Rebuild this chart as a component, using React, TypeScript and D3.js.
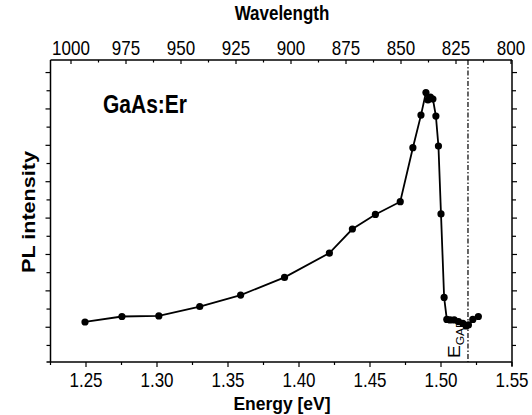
import React from 'react';
import * as d3 from 'd3';

// Data (energy in eV, PL intensity in arbitrary units = tick steps)
const energy = [1.2493, 1.2753, 1.3013, 1.3301, 1.3589, 1.3898, 1.4214, 1.4376, 1.4538, 1.4713,
  1.4802, 1.4859, 1.4894, 1.4908, 1.4925, 1.4943, 1.4964, 1.4982, 1.5000, 1.5022,
  1.5041, 1.5064, 1.5093, 1.5123, 1.5154, 1.5177, 1.5193, 1.5224, 1.5263];
const intensity = [2.29, 2.59, 2.62, 3.14, 3.77, 4.74, 6.08, 7.40, 8.20, 8.90,
  11.87, 13.66, 14.90, 14.49, 14.65, 14.54, 13.61, 11.96, 8.23, 3.64,
  2.43, 2.40, 2.40, 2.31, 2.21, 2.07, 2.13, 2.43, 2.59];

const energyTicks = [1.25, 1.30, 1.35, 1.40, 1.45, 1.50, 1.55];
const wavelengthTicks = [1000, 975, 950, 925, 900, 875, 850, 825, 800];
const intensityTicks = d3.range(1, 17);
const bandGap = 1.519;

const W = 532, H = 415;
const L = 50.5, R = 512, T = 60, B = 362;
const FONT = "'Liberation Sans', Arial, Helvetica, sans-serif";
const SY = 1.2; // vertical stretch of the scanned lettering

export default function App() {
  const x = d3.scaleLinear().domain([1.225, 1.55]).range([L, R]);
  const xTop = d3.scaleLinear().domain([1000, 800]).range([71, 511]);
  const y = d3.scaleLinear().domain([0.09, 16.69]).range([B, T]);

  const pts = energy.map((e, i) => [x(e), y(intensity[i])] as [number, number]);
  const line = d3.line()(pts) || '';

  const minorE = d3.range(0, 14).map(i => 1.225 + i * 0.025);
  const minorW = d3.range(0, 17).map(i => 1000 - i * 12.5);

  const stretchText = (tx: number, ty: number, s: string, size: number, weight: string, anchor = 'middle', key?: any, sy = SY) => (
    <text key={key} transform={`translate(${tx},${ty}) scale(1,${sy})`} fontSize={size} fontWeight={weight}
      textAnchor={anchor} fontFamily={FONT} fill="#000">{s}</text>
  );

  return (
    <svg width={W} height={H} style={{ position: 'absolute', left: 0, top: 0, background: '#fff' }}>
      <rect x={0} y={0} width={W} height={H} fill="#fff" />
      {/* frame */}
      <g stroke="#000" strokeWidth={1.5} fill="none">
        <line x1={L} y1={T} x2={R} y2={T} />
        <line x1={L - 4} y1={B} x2={R} y2={B} />
        <line x1={L} y1={T} x2={L} y2={B} />
        <line x1={R} y1={T} x2={R} y2={B + 4} />
      </g>
      {/* ticks */}
      <g stroke="#000" strokeWidth={1.2}>
        {minorE.map((e, i) => {
          const major = Math.abs(Math.round(e * 20) - e * 20) < 1e-6;
          return <line key={i} x1={x(e)} x2={x(e)} y1={B} y2={B + (major ? 5 : 3)} />;
        })}
        {minorW.map((w, i) => (
          <line key={'w' + i} x1={xTop(w)} x2={xTop(w)} y1={T} y2={T + (i % 2 === 0 ? 4 : 2.5)} />
        ))}
        {intensityTicks.map(v => (
          <g key={'t' + v}>
            <line x1={L} x2={L - (v % 2 === 0 ? 5 : 4)} y1={y(v)} y2={y(v)} />
            <line x1={R} x2={R + (v % 2 === 0 ? 5 : 4)} y1={y(v)} y2={y(v)} />
          </g>
        ))}
      </g>
      {/* tick labels */}
      {energyTicks.map((e, i) => stretchText(x(e), 387, d3.format('.2f')(e), 17, 'normal', 'middle', 'e' + i))}
      {wavelengthTicks.map((w, i) => stretchText(xTop(w), 55, String(w), 17, 'normal', 'middle', 'l' + i))}
      {/* axis titles */}
      {stretchText(282, 410, 'Energy [eV]', 17.5, 'bold', 'middle', 'et', 1.1)}
      {stretchText(282, 20, 'Wavelength', 17, 'bold')}
      <text transform={`translate(35,212) rotate(-90) scale(${SY},1)`} fontSize={18} fontWeight="bold"
        textAnchor="middle" fontFamily={FONT}>PL intensity</text>
      {stretchText(103, 113, 'GaAs:Er', 21, 'bold', 'start')}
      {/* band gap marker */}
      <line x1={x(bandGap)} x2={x(bandGap)} y1={T} y2={B} stroke="#000" strokeWidth={1.2} strokeDasharray="5,2,1.5,2" />
      <text transform={`translate(460,358) rotate(-90) scale(${SY},1)`} fontFamily={FONT} fontSize={16}>
        E<tspan fontSize={10} dy={4}>GAP</tspan>
      </text>
      {/* data */}
      <path d={line} fill="none" stroke="#000" strokeWidth={1.8} />
      {pts.map((p, i) => <circle key={i} cx={p[0]} cy={p[1]} r={3.6} fill="#000" />)}
    </svg>
  );
}
